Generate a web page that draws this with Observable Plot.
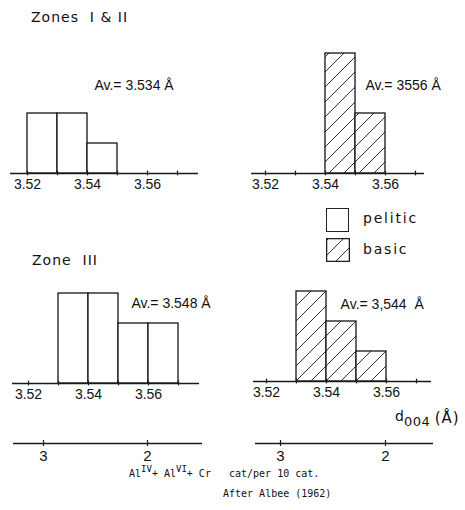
<!DOCTYPE html>
<html><head><meta charset="utf-8">
<script src="https://cdn.jsdelivr.net/npm/d3@7"></script>
<script src="https://cdn.jsdelivr.net/npm/@observablehq/plot@0.6"></script>
<style>
body{margin:0;background:#fff;}
#fig{position:relative;width:465px;height:510px;background:#fff;overflow:hidden;}
.lab{position:absolute;font-family:"DejaVu Sans",sans-serif;font-size:14px;line-height:14px;color:#111;white-space:pre;}
.mono{position:absolute;font-family:"DejaVu Sans Mono","Liberation Mono",monospace;font-size:10px;line-height:12px;color:#111;white-space:pre;}
.mono sup{font-size:9px;vertical-align:5px;line-height:0;}
.sw{position:absolute;box-sizing:border-box;width:23px;height:24px;border:1.3px solid #222;background:#fff;}
</style></head><body><div id="fig"></div>
<script>
// ---- data ----
const binStarts = [3.52, 3.53, 3.54, 3.55, 3.56];
const binWidth = 0.01;
const zones12Pelitic = [2, 2, 1, 0, 0];
const zones12Basic   = [0, 0, 4, 2, 0];
const zone3Pelitic   = [0, 3, 3, 2, 2];
const zone3Basic     = [0, 3, 2, 1, 0];
const averageLabels = ["Av.= 3.534 Å", "Av.= 3556 Å", "Av.= 3.548 Å", "Av.= 3,544  Å"];
const zoneTitles = ["Zones  I & II", "Zone  III"];
const rockTypes = ["pelitic", "basic"];
const dTickLabels = [3.52, 3.54, 3.56];
const dMinorTicks = [3.52, 3.53, 3.54, 3.55, 3.56, 3.57];
const alTicks = [3, 2];
const sourceNote = "After Albee (1962)";

const fig = document.getElementById("fig");
function place(node, left, top) {
  node.style.position = "absolute";
  node.style.left = left + "px";
  node.style.top = top + "px";
  fig.appendChild(node);
  return node;
}
function hatch(id) {
  return () => {
    const defs = d3.create("svg:defs");
    const p = defs.append("pattern").attr("id", id).attr("patternUnits", "userSpaceOnUse")
      .attr("width", 15).attr("height", 15);
    p.append("rect").attr("width", 15).attr("height", 15).attr("fill", "white");
    p.append("path").attr("d", "M0,15L15,0M-2,2L2,-2M13,17L17,13")
      .attr("stroke", "#1a1a1a").attr("stroke-width", 0.9).attr("fill", "none");
    return defs.node();
  };
}
const style = {fontFamily: "'Liberation Sans', Arial, sans-serif", fontSize: "14px", color: "#111", background: "none", overflow: "visible"};

const panels = [
  {counts: zones12Pelitic, type: rockTypes[0], avg: averageLabels[0], avgX: 3.5423, avgY: 2.8,  left: 0,   top: 0,   width: 232, height: 200, ml: 10, mr: 34, base: 173, x0: 27},
  {counts: zones12Basic,   type: rockTypes[1], avg: averageLabels[1], avgX: 3.5533, avgY: 2.8,  left: 232, top: 0,   width: 233, height: 200, ml: 19, mr: 41, base: 173, x0: 33},
  {counts: zone3Pelitic,   type: rockTypes[0], avg: averageLabels[2], avgX: 3.5543, avgY: 2.53, left: 0,   top: 250, width: 232, height: 155, ml: 12, mr: 33, base: 133, x0: 28},
  {counts: zone3Basic,     type: rockTypes[1], avg: averageLabels[3], avgX: 3.5447, avgY: 2.43, left: 232, top: 250, width: 233, height: 155, ml: 21, mr: 34, base: 131, x0: 34}
];

panels.forEach((p, i) => {
  const rows = binStarts.map((s, j) => ({x1: s, x2: s + binWidth, n: p.counts[j]})).filter(d => d.n > 0);
  const id = "hatch" + i;
  const isBasic = p.type === rockTypes[1];
  const chart = Plot.plot({
    width: p.width, height: p.height,
    marginLeft: p.ml, marginRight: p.mr, marginTop: 0, marginBottom: p.height - p.base,
    style,
    x: {domain: [3.52, 3.56], range: [p.x0, p.x0 + 120]},
    y: {domain: [0, 4], range: [p.base, p.base - 120], axis: null},
    marks: [
      isBasic ? hatch(id) : null,
      Plot.rectY(rows, {x1: "x1", x2: "x2", y: "n", fill: isBasic ? `url(#${id})` : "white", stroke: "#151515", strokeWidth: 1.3, inset: 0}),
      Plot.ruleY([0], {stroke: "#1a1a1a", strokeWidth: 1.6}),
      Plot.ruleX(dMinorTicks, {y1: -0.08, y2: 0.08, stroke: "#1a1a1a", strokeWidth: 1.2}),
      Plot.axisX(dTickLabels, {tickSize: 0, tickPadding: 6, tickFormat: d => d.toFixed(2), fontSize: 14, label: null}),
      Plot.text([p.avg], {x: () => p.avgX, y: () => p.avgY, text: d => d, textAnchor: "start", lineAnchor: "bottom", fontSize: 14, fill: "#111"})
    ]
  });
  place(chart, p.left, p.top);
});

// Al axes (secondary scales)
[{left: 0, width: 232, ml: 13, mr: 30, x3: 43, x2: 147},
 {left: 232, width: 233, ml: 23, mr: 32, x3: 48, x2: 153}].forEach(a => {
  const chart = Plot.plot({
    width: a.width, height: 60, marginLeft: a.ml, marginRight: a.mr, marginTop: 0, marginBottom: 27,
    style,
    x: {domain: [3, 2], range: [a.x3, a.x2]},
    y: {domain: [-1, 1], range: [36, 30], axis: null},
    marks: [
      Plot.ruleY([0], {stroke: "#1a1a1a", strokeWidth: 1.6}),
      Plot.ruleX(alTicks, {y1: -1, y2: 1, stroke: "#1a1a1a", strokeWidth: 1.2}),
      Plot.axisX(alTicks, {tickSize: 0, tickPadding: 7, tickFormat: d => String(d), fontSize: 15, label: null})
    ]
  });
  place(chart, a.left, 410);
});

// titles
function label(html, left, top, extra) {
  const d = document.createElement("div");
  d.className = "lab";
  d.innerHTML = html;
  if (extra) Object.assign(d.style, extra);
  return place(d, left, top);
}
label("", 31, 10, {letterSpacing: "1px"}).textContent = zoneTitles[0];
label("", 32, 253, {letterSpacing: "1px"}).textContent = zoneTitles[1];

// legend
const sw1 = document.createElement("div"); sw1.className = "sw"; place(sw1, 326, 208);
const sw2 = document.createElementNS("http://www.w3.org/2000/svg", "svg");
sw2.setAttribute("width", 24); sw2.setAttribute("height", 24);
sw2.innerHTML = `<defs><pattern id="hatchLegend" patternUnits="userSpaceOnUse" width="15" height="15" x="3" y="0"><rect width="15" height="15" fill="white"/><path d="M0,15L15,0M-2,2L2,-2M13,17L17,13" stroke="#1a1a1a" stroke-width="0.9" fill="none"/></pattern></defs><rect x="0.65" y="0.65" width="22.7" height="22.7" fill="url(#hatchLegend)" stroke="#222" stroke-width="1.3"/>`;
place(sw2, 326, 238);
label("", 363, 211, {letterSpacing: "1.8px"}).textContent = rockTypes[0];
label("", 363, 242, {letterSpacing: "1.8px"}).textContent = rockTypes[1];

// d004 axis title
label('d<span style="font-size:13px;position:relative;top:5px;letter-spacing:0.5px">004</span> <span style="font-size:15px;letter-spacing:1px;position:relative;top:2px">(Å)</span>', 395, 409);

// caption
const c1 = document.createElement("div"); c1.className = "mono";
c1.innerHTML = "Al<sup>IV</sup>+ Al<sup>VI</sup>+ Cr   cat/per 10 cat.";
place(c1, 129, 468);
const c2 = document.createElement("div"); c2.className = "mono";
c2.textContent = sourceNote;
place(c2, 223, 488);
</script></body></html>
